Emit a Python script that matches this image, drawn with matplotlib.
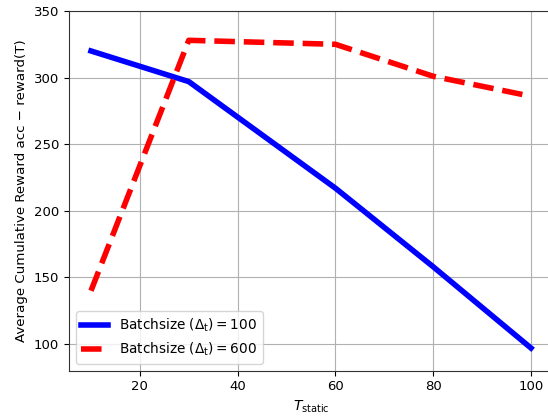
import matplotlib
matplotlib.use("Agg")
import matplotlib.pyplot as plt

x_blue = [10, 30, 60, 80, 100]
y_blue = [320, 297, 217, 158, 97]
x_red = [10, 30, 60, 80, 100]
y_red = [140, 328, 325, 301, 286]

labels = [r'Batchsize $(\Delta_{\mathrm{t}}) = 100$', r'Batchsize $(\Delta_{\mathrm{t}}) = 600$']

plt.rcParams['font.size'] = 9.5
fig = plt.figure(figsize=(5.48, 4.18), dpi=100)
ax = fig.add_axes([69/548, 47.3/418, (553-69)/548, (370.7-11)/418])
ax.plot(x_blue, y_blue, color='blue', lw=4, label=labels[0])
ax.plot(x_red, y_red, color='red', lw=4, ls='--', label=labels[1])
ax.set_xlim(5.5, 104.5)
ax.set_ylim(80, 350)
ax.set_xticks([20, 40, 60, 80, 100])
ax.set_yticks([100, 150, 200, 250, 300, 350])
ax.grid(True, color='#b0b0b0', lw=0.8)
for s in ax.spines.values():
    s.set_color('#333333')
ax.set_xlabel(r'$T_{\mathrm{static}}$', fontsize=10)
ax.set_ylabel('Average Cumulative Reward acc \u2212 reward(T)', fontsize=9.6)
ax.legend(loc='lower left', fontsize=9.8)
fig.savefig('out.png', dpi=100)
